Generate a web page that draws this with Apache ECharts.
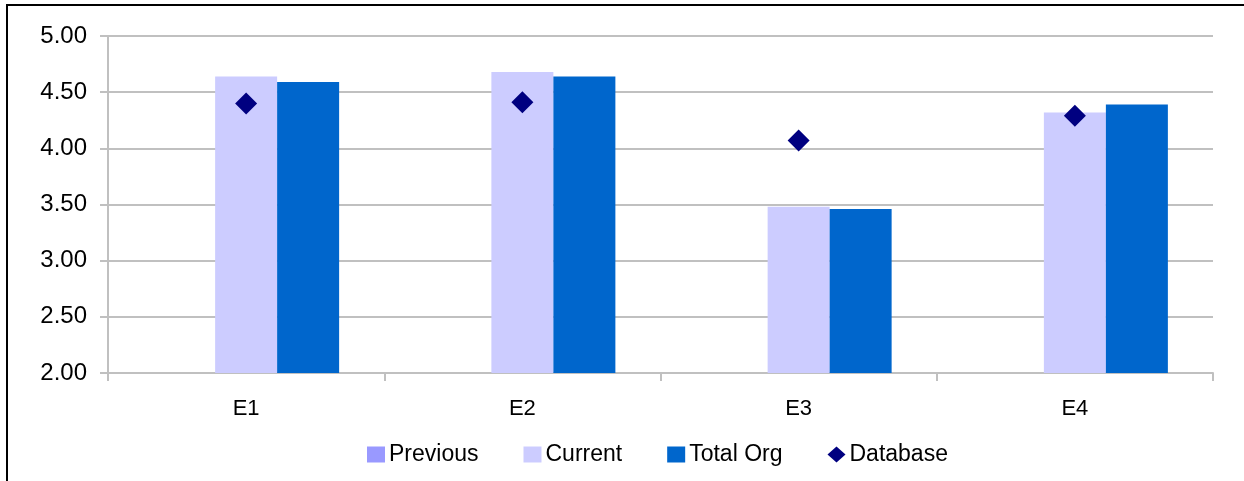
<!doctype html>
<html>
<head>
<meta charset="utf-8">
<script src="https://cdn.jsdelivr.net/npm/echarts@6/dist/echarts.min.js"></script>
<style>
  html, body { margin: 0; padding: 0; background: #fff; }
  #chart { width: 1244px; height: 481px; }
</style>
</head>
<body>
<div id="chart"></div>
<script>
var categories = ['E1', 'E2', 'E3', 'E4'];
var previous = [null, null, null, null];
var current = [4.64, 4.68, 3.48, 4.32];
var totalOrg = [4.59, 4.64, 3.46, 4.39];
var database = [4.40, 4.41, 4.07, 4.29];
var yTicks = { min: 2, max: 5, step: 0.5 };

var font = 'Liberation Sans, Arial, sans-serif';
var chart = echarts.init(document.getElementById('chart'));

chart.setOption({
  animation: false,
  graphic: [{
    type: 'polyline',
    shape: { points: [[7, 481], [7, 5], [1244, 5]] },
    style: { stroke: '#000', lineWidth: 2, fill: null }
  }],
  grid: { left: 108, right: 31, top: 36, bottom: 108 },
  legend: {
    left: 362,
    top: 438,
    itemWidth: 18,
    itemHeight: 16,
    itemGap: 45,
    textStyle: { fontFamily: font, fontSize: 23, color: '#000', padding: [0, 0, 0, -1] },
    data: [
      { name: 'Previous', icon: 'rect' },
      { name: 'Current', icon: 'rect' },
      { name: 'Total Org', icon: 'rect' },
      { name: 'Database', icon: 'diamond', itemStyle: { opacity: 1 } }
    ]
  },
  xAxis: {
    type: 'category',
    data: categories,
    axisLine: { lineStyle: { color: '#c0c0c0', width: 2 } },
    axisTick: { show: true, length: 8, lineStyle: { color: '#c0c0c0', width: 2 } },
    axisLabel: { margin: 25, fontFamily: font, fontSize: 22, color: '#000' }
  },
  yAxis: {
    type: 'value',
    min: yTicks.min,
    max: yTicks.max,
    interval: yTicks.step,
    axisLine: { show: true, lineStyle: { color: '#c0c0c0', width: 2 } },
    axisTick: { show: true, length: 8, lineStyle: { color: '#c0c0c0', width: 2 } },
    splitLine: { lineStyle: { color: '#c0c0c0', width: 2 } },
    axisLabel: {
      margin: 21, fontFamily: font, fontSize: 24, color: '#000',
      formatter: function (v) { return v.toFixed(2); }
    }
  },
  series: [
    { name: 'Previous', type: 'bar', data: previous, barWidth: 62, barGap: '0%',
      itemStyle: { color: '#9999ff' } },
    { name: 'Current', type: 'bar', data: current, barWidth: 62, barGap: '0%',
      itemStyle: { color: '#ccccff' } },
    { name: 'Total Org', type: 'bar', data: totalOrg, barWidth: 62, barGap: '0%',
      itemStyle: { color: '#0066cc' } },
    { name: 'Database', type: 'scatter', data: database, symbol: 'diamond', symbolSize: 22,
      itemStyle: { color: '#000080', opacity: 1 }, z: 5 }
  ]
});
</script>
</body>
</html>
